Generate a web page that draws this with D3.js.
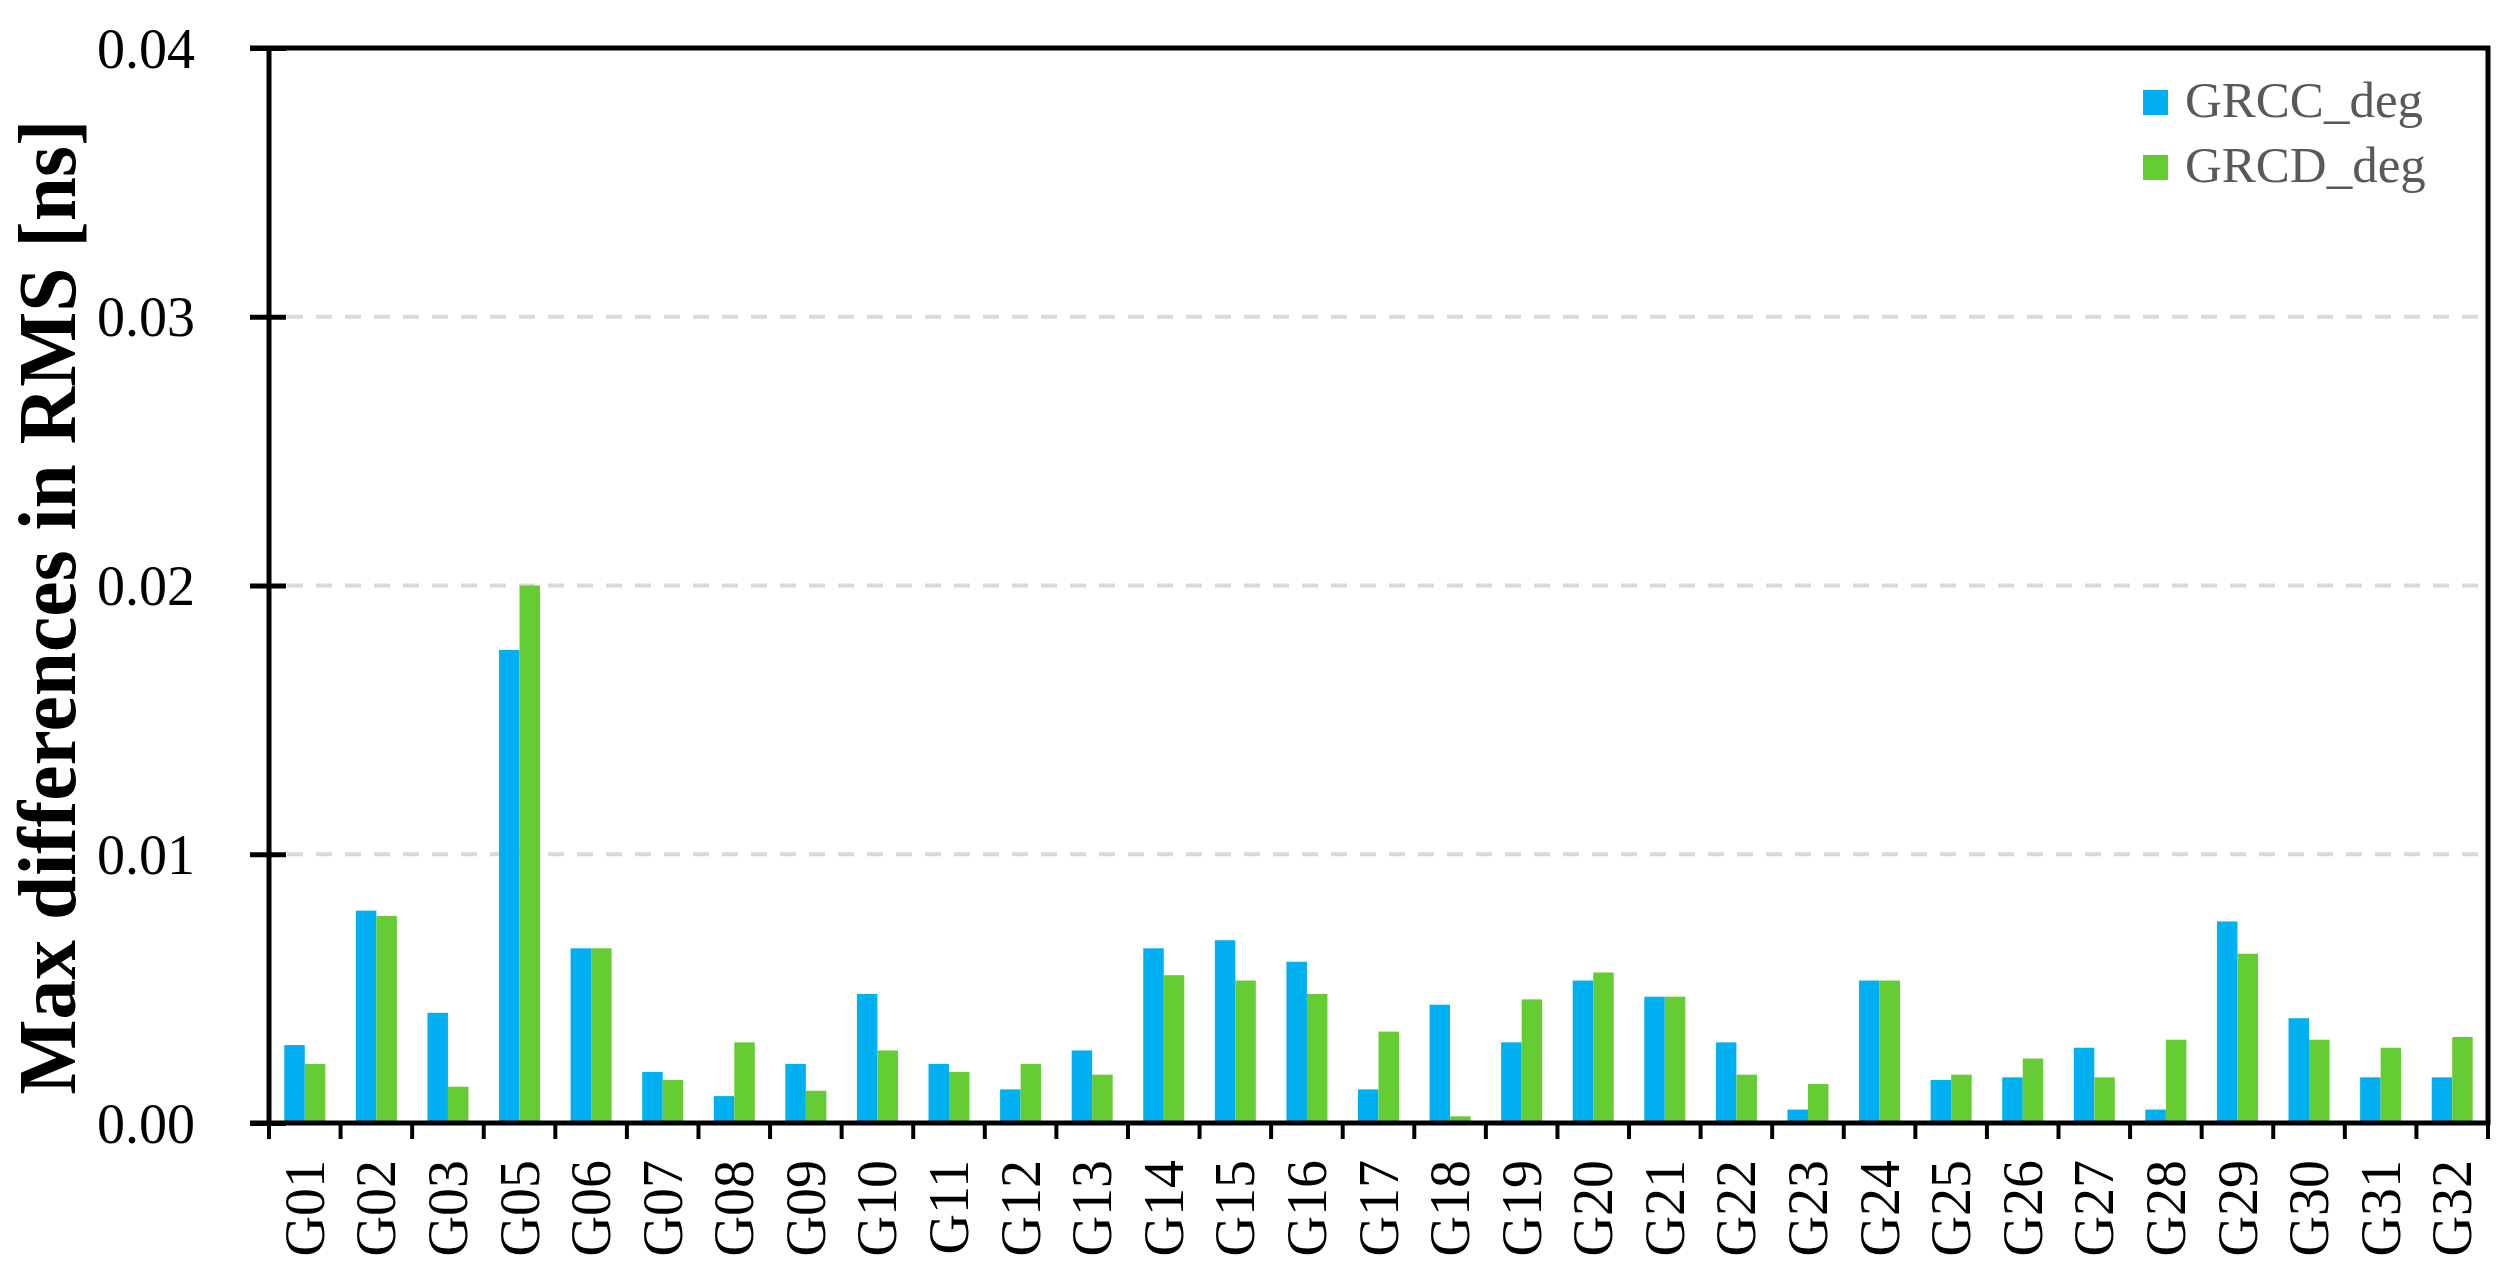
<!DOCTYPE html>
<html>
<head>
<meta charset="utf-8">
<script src="https://cdn.jsdelivr.net/npm/d3@7"></script>
<style>
  html, body { margin: 0; padding: 0; background: #fff; }
  svg { display: block; }
</style>
</head>
<body>
<svg id="chart" width="2508" height="1282"></svg>
<script>
const categories = ["G01","G02","G03","G05","G06","G07","G08","G09","G10","G11","G12","G13","G14","G15","G16","G17","G18","G19","G20","G21","G22","G23","G24","G25","G26","G27","G28","G29","G30","G31","G32"];
const seriesNames = ["GRCC_deg", "GRCD_deg"];
const grccDeg = [0.0029,0.0079,0.0041,0.0176,0.0065,0.0019,0.0010,0.0022,0.0048,0.0022,0.00125,0.0027,0.0065,0.0068,0.0060,0.00125,0.0044,0.0030,0.0053,0.0047,0.0030,0.0005,0.0053,0.0016,0.0017,0.0028,0.0005,0.0075,0.0039,0.0017,0.0017];
const grcdDeg = [0.0022,0.0077,0.00135,0.0200,0.0065,0.0016,0.0030,0.0012,0.0027,0.0019,0.0022,0.0018,0.0055,0.0053,0.0048,0.0034,0.00025,0.0046,0.0056,0.0047,0.0018,0.00145,0.0053,0.0018,0.0024,0.0017,0.0031,0.0063,0.0031,0.0028,0.0032];
const yTicks = [0, 0.01, 0.02, 0.03, 0.04];
const yTitle = "Max differences in RMS [ns]";

const colors = ["#00B0F0", "#66CC33"];
const serif = "'Liberation Serif','Times New Roman',Times,serif";

const svg = d3.select("#chart");
const L = 269, R = 2488, T = 48, B = 1123;

const x0 = d3.scaleBand().domain(categories).range([L, R]).paddingInner(0).paddingOuter(0);
const x1 = d3.scaleBand().domain(seriesNames).range([0, x0.bandwidth()]).paddingInner(0).paddingOuter(0.745);
const y = d3.scaleLinear().domain([0, 0.04]).range([B, T]);
const color = d3.scaleOrdinal().domain(seriesNames).range(colors);

// grid
svg.append("g").selectAll("line")
  .data(yTicks.filter(d => d > 0 && d < 0.04))
  .join("line")
  .attr("x1", L + 18).attr("x2", R - 2)
  .attr("y1", d => y(d)).attr("y2", d => y(d))
  .attr("stroke", "#d9d9d9").attr("stroke-width", 4)
  .attr("stroke-dasharray", "16,13");

// bars
const rows = categories.map((c, i) => ({cat: c, vals: [grccDeg[i], grcdDeg[i]]}));
const groups = svg.append("g").selectAll("g")
  .data(rows).join("g")
  .attr("transform", d => `translate(${x0(d.cat)},0)`);
groups.selectAll("rect")
  .data(d => d.vals.map((v, k) => ({key: seriesNames[k], v})))
  .join("rect")
  .attr("x", d => x1(d.key))
  .attr("width", x1.bandwidth())
  .attr("y", d => y(d.v))
  .attr("height", d => B - y(d.v))
  .attr("fill", d => color(d.key));

// y axis
const yAxis = svg.append("g").attr("transform", `translate(${L},0)`)
  .call(d3.axisLeft(y).tickValues(yTicks).tickFormat(d3.format(".2f")).tickSize(18).tickPadding(56));
yAxis.select(".domain").remove();
yAxis.selectAll(".tick line").attr("x1", 17).attr("x2", -19).attr("stroke", "#000").attr("stroke-width", 5);
yAxis.selectAll(".tick text").attr("font-family", serif).attr("font-size", 56).attr("fill", "#000").attr("dy", "0.34em");

// frame lines
svg.append("line").attr("x1", L).attr("x2", L).attr("y1", T - 2).attr("y2", B + 2).attr("stroke", "#000").attr("stroke-width", 5);
svg.append("line").attr("x1", L - 19).attr("x2", R + 2).attr("y1", T).attr("y2", T).attr("stroke", "#000").attr("stroke-width", 5);
svg.append("line").attr("x1", R).attr("x2", R).attr("y1", T - 2).attr("y2", B + 2).attr("stroke", "#000").attr("stroke-width", 5);
svg.append("line").attr("x1", L - 19).attr("x2", R + 2).attr("y1", B).attr("y2", B).attr("stroke", "#000").attr("stroke-width", 5);

// x ticks at band boundaries
const bounds = categories.map(c => x0(c)).concat([x0(categories[categories.length - 1]) + x0.bandwidth()]);
svg.append("g").selectAll("line").data(bounds).join("line")
  .attr("x1", d => d).attr("x2", d => d)
  .attr("y1", B).attr("y2", B + 16)
  .attr("stroke", "#000").attr("stroke-width", 4);

// x labels
const xAxis = svg.append("g").attr("transform", `translate(0,${B})`)
  .call(d3.axisBottom(x0).tickSize(0).tickPadding(0));
xAxis.select(".domain").remove();
xAxis.selectAll(".tick text")
  .attr("font-family", serif).attr("font-size", 56).attr("fill", "#000")
  .attr("transform", "rotate(-90)")
  .attr("text-anchor", "end")
  .attr("x", -37).attr("y", 0).attr("dy", "0.34em");

// y title
svg.append("text")
  .attr("transform", `translate(75,${607}) rotate(-90)`)
  .attr("text-anchor", "middle")
  .attr("font-family", serif).attr("font-weight", "bold").attr("font-size", 82)
  .attr("textLength", 975).attr("lengthAdjust", "spacingAndGlyphs")
  .attr("fill", "#000")
  .text(yTitle);

// legend
const legend = svg.append("g").selectAll("g").data(seriesNames).join("g")
  .attr("transform", (d, i) => `translate(2143,${90 + i * 65})`);
legend.append("rect").attr("width", 25).attr("height", 25).attr("fill", d => color(d));
legend.append("text").attr("x", 42).attr("y", 27)
  .attr("font-family", serif).attr("font-size", 51).attr("fill", "#595959")
  .text(d => d);
</script>
</body>
</html>
